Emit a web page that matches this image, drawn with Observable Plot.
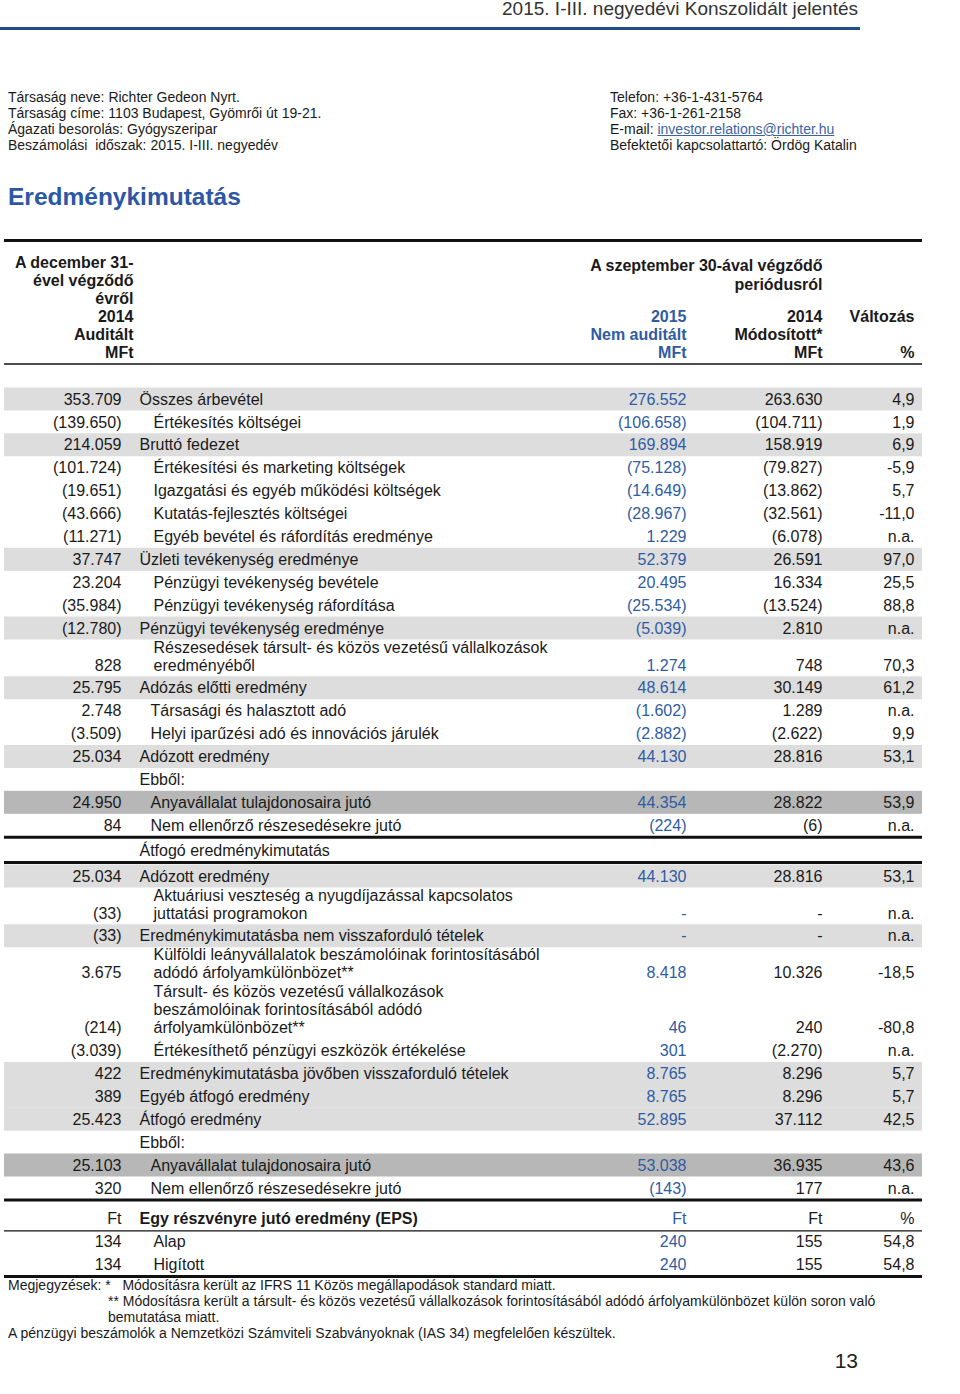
<!DOCTYPE html>
<html><head><meta charset="utf-8">
<script src="https://cdn.jsdelivr.net/npm/d3@7"></script>
<script src="https://cdn.jsdelivr.net/npm/@observablehq/plot@0.6"></script>
<style>
html,body{margin:0;padding:0;background:#fff;overflow:hidden;}
#page{position:relative;width:960px;font-family:"Liberation Sans",Arial,sans-serif;color:#1a1a1a;}
#head{position:relative;height:232px;}
#foot{position:relative;height:116px;}
.abs{position:absolute;white-space:nowrap;}
.info{font-size:14px;line-height:16px;}
.note{font-size:14px;line-height:16px;}
#chart svg{display:block;}
a{color:#3a62a7;text-decoration:underline;}
</style></head>
<body>
<div id="page">
  <div id="head">
    <div class="abs" style="right:102px;top:-2px;font-size:19px;line-height:22px;color:#333;">2015. I-III. negyedévi Konszolidált jelentés</div>
    <div class="abs" style="left:0;top:27px;width:860px;height:3px;background:#1f4e8c;"></div>
    <div class="abs info" style="left:8px;top:89px;">Társaság neve: Richter Gedeon Nyrt.<br>Társaság címe: 1103 Budapest, Gyömrői út 19-21.<br>Ágazati besorolás: Gyógyszeripar<br>Beszámolási&nbsp; időszak: 2015. I-III. negyedév</div>
    <div class="abs info" style="left:610px;top:89px;">Telefon: +36-1-431-5764<br>Fax: +36-1-261-2158<br>E-mail: <a>investor.relations@richter.hu</a><br>Befektetői kapcsolattartó: Ördög Katalin</div>
    <div class="abs" style="left:8px;top:183px;font-size:24.5px;line-height:28px;font-weight:bold;color:#2b57a5;">Eredménykimutatás</div>
  </div>
  <div id="chart"></div>
  <div id="foot">
    <div class="abs note" style="left:8px;top:-1px;">Megjegyzések: *&nbsp;&nbsp; Módosításra került az IFRS 11 Közös megállapodások standard miatt.</div>
    <div class="abs note" style="left:108px;top:15px;">** Módosításra került a társult- és közös vezetésű vállalkozások forintosításából adódó árfolyamkülönbözet külön soron való</div>
    <div class="abs note" style="left:108px;top:31px;">bemutatása miatt.</div>
    <div class="abs note" style="left:8px;top:47px;">A pénzügyi beszámolók a Nemzetközi Számviteli Szabványoknak (IAS 34) megfelelően készültek.</div>
    <div class="abs" style="right:102px;top:71px;font-size:21px;line-height:24px;color:#222;">13</div>
  </div>
</div>
<script>
// ---------- DATA ----------
const labels = [
  "Összes árbevétel",
  "Értékesítés költségei",
  "Bruttó fedezet",
  "Értékesítési és marketing költségek",
  "Igazgatási és egyéb működési költségek",
  "Kutatás-fejlesztés költségei",
  "Egyéb bevétel és ráfordítás eredménye",
  "Üzleti tevékenység eredménye",
  "Pénzügyi tevékenység bevétele",
  "Pénzügyi tevékenység ráfordítása",
  "Pénzügyi tevékenység eredménye",
  "Részesedések társult- és közös vezetésű vállalkozások\neredményéből",
  "Adózás előtti eredmény",
  "Társasági és halasztott adó",
  "Helyi iparűzési adó és innovációs járulék",
  "Adózott eredmény",
  "Ebből:",
  "Anyavállalat tulajdonosaira jutó",
  "Nem ellenőrző részesedésekre jutó",
  "Átfogó eredménykimutatás",
  "Adózott eredmény",
  "Aktuáriusi veszteség a nyugdíjazással kapcsolatos\njuttatási programokon",
  "Eredménykimutatásba nem visszaforduló tételek",
  "Külföldi leányvállalatok beszámolóinak forintosításából\nadódó árfolyamkülönbözet**",
  "Társult- és közös vezetésű vállalkozások\nbeszámolóinak forintosításából adódó\nárfolyamkülönbözet**",
  "Értékesíthető pénzügyi eszközök értékelése",
  "Eredménykimutatásba jövőben visszaforduló tételek",
  "Egyéb átfogó eredmény",
  "Átfogó eredmény",
  "Ebből:",
  "Anyavállalat tulajdonosaira jutó",
  "Nem ellenőrző részesedésekre jutó",
  "Egy részvényre jutó eredmény (EPS)",
  "Alap",
  "Higított"
];
// year ended 31 Dec 2014 (audited), MFt (EPS rows in Ft)
const yearEnd2014 = [353709,-139650,214059,-101724,-19651,-43666,-11271,37747,23204,-35984,-12780,828,25795,2748,-3509,25034,null,24950,84,null,25034,-33,-33,3675,-214,-3039,422,389,25423,null,25103,320,null,134,134];
// period ended 30 Sep 2015 (not audited)
const sep2015 = [276552,-106658,169894,-75128,-14649,-28967,1229,52379,20495,-25534,-5039,1274,48614,-1602,-2882,44130,null,44354,-224,null,44130,null,null,8418,46,301,8765,8765,52895,null,53038,-143,null,240,240];
// period ended 30 Sep 2014 (restated)
const sep2014 = [263630,-104711,158919,-79827,-13862,-32561,-6078,26591,16334,-13524,2810,748,30149,1289,-2622,28816,null,28822,-6,null,28816,null,null,10326,240,-2270,8296,8296,37112,null,36935,177,null,155,155];
// change, %
const changePct = [4.9,1.9,6.9,-5.9,5.7,-11.0,null,97.0,25.5,88.8,null,70.3,61.2,null,9.9,53.1,null,53.9,null,null,53.1,null,null,-18.5,-80.8,null,5.7,5.7,42.5,null,43.6,null,null,54.8,54.8];
const indentLevels = [0,1,0,1,1,1,1,0,1,1,0,1,0,2,2,0,0,2,2,0,0,1,0,1,1,1,0,0,0,0,2,2,0,1,1];
const shading = ["L","","L","","","","","L","","","L","","L","","","L","","D","","","L","","L","","","","L","L","L","","D","","","",""];
const rowKinds = ["item","item","item","item","item","item","item","item","item","item","item","item","item","item","item","item","heading","item","item","heading","item","item","item","item","item","item","item","item","item","heading","item","item","unit","item","item"];
const rulesAfter = {18: "thick", 19: "thick", 31: "thick", 32: "thin", 34: "thick"};
const epsUnits = ["Ft", "Ft", "Ft", "%"];

const headYearEnd = ["A december 31-", "ével végződő", "évről", "2014", "Auditált", "MFt"];
const headPeriod = ["A szeptember 30-ával végződő", "periódusról"];
const headCur = ["2015", "Nem auditált", "MFt"];
const headPrev = ["2014", "Módosított*", "MFt"];
const headChg = ["Változás", "", "%"];

// ---------- LAYOUT ----------
const TOP = 232, H = 1046;
const colX = {fy: 121, label: [139, 153, 150], cur: 686, prev: 822, chg: 914};
const tableX = [4, 922];
const firstRowY = 399, step = 22.9, lineGap = 18;
const extraForLines = {1: 0, 2: 14, 3: 32};
const headLineY0 = 262;
const FS = 16, HFS = 16;
const BLUE = "#2f5ca3", INK = "#1a1a1a";

const loc = d3.formatLocale({decimal: ",", thousands: ".", grouping: [3], currency: ["", ""], minus: "-"});
const fInt = loc.format(",d"), fPct = loc.format(".1f");
const fmtVal = v => v == null ? "-" : v < 0 ? `(${fInt(-v)})` : fInt(v);
const fmtChg = v => v == null ? "n.a." : fPct(v);

// row positions
const rows = [];
let y = firstRowY;
labels.forEach((lab, i) => {
  const lines = lab.split("\n");
  if (i > 0) {
    y += step + extraForLines[lines.length];
    if (rulesAfter[i - 1] === "thick") y += 2.5;
    if (rowKinds[i] === "unit") y += 5.5;
  }
  rows.push({i, lines, y, kind: rowKinds[i]});
});

const shades = rows.filter(r => shading[r.i]).map(r => ({
  y1: r.y - 11.5, y2: r.y + 11.5, fill: shading[r.i] === "D" ? "#b7b7b7" : "#dddddd"
}));
const rules = [{y: 240, w: 3}, {y: 363.5, w: 1.3}].concat(
  Object.entries(rulesAfter).map(([k, t]) => ({y: rows[+k].y + 11.5, w: t === "thick" ? 3 : 1.3}))
);

const endCells = [], startCells = [], boldStart = [];
rows.forEach(r => {
  const i = r.i;
  const lx = colX.label[indentLevels[i]];
  if (r.kind === "unit") {
    boldStart.push({x: lx, y: r.y, text: r.lines[0]});
    [colX.fy, colX.cur, colX.prev, colX.chg].forEach((x, k) =>
      endCells.push({x, y: r.y, text: epsUnits[k], c: k === 1 ? BLUE : INK}));
    return;
  }
  r.lines.forEach((t, k) => startCells.push({x: lx, y: r.y - (r.lines.length - 1 - k) * lineGap, text: t}));
  if (r.kind === "heading") return;
  endCells.push({x: colX.fy, y: r.y, text: fmtVal(yearEnd2014[i]), c: INK});
  endCells.push({x: colX.cur, y: r.y, text: fmtVal(sep2015[i]), c: BLUE});
  endCells.push({x: colX.prev, y: r.y, text: fmtVal(sep2014[i]), c: INK});
  endCells.push({x: colX.chg, y: r.y, text: fmtChg(changePct[i]), c: INK});
});

const headCells = [];
const addHead = (arr, x, start, c, stepL = 1) => arr.forEach((t, k) => {
  if (t) headCells.push({x, y: headLineY0 + (start + k * stepL) * lineGap, text: t, c});
});
addHead(headYearEnd, colX.fy + 12, 0, INK);
addHead(headPeriod, colX.prev, 0.17, INK, 1.05);
addHead(headCur, colX.cur, 3, BLUE);
addHead(headPrev, colX.prev, 3, INK);
addHead(headChg, colX.chg, 3, INK);

const chart = Plot.plot({
  width: 960, height: H, margin: 0,
  x: {type: "linear", domain: [0, 960], range: [0, 960], axis: null},
  y: {type: "linear", domain: [TOP, TOP + H], range: [0, H], axis: null},
  color: {type: "identity"},
  style: {fontFamily: "'Liberation Sans', Arial, sans-serif", background: "white", color: INK},
  marks: [
    Plot.rect(shades, {x1: tableX[0], x2: tableX[1], y1: "y1", y2: "y2", fill: "fill"}),
    Plot.ruleY(rules, {y: "y", x1: tableX[0], x2: tableX[1], stroke: "#111", strokeWidth: "w"}),
    Plot.text(headCells, {x: "x", y: "y", text: "text", fill: "c", textAnchor: "end", fontSize: HFS, fontWeight: "bold"}),
    Plot.text(startCells, {x: "x", y: "y", text: "text", fill: INK, textAnchor: "start", fontSize: FS}),
    Plot.text(boldStart, {x: "x", y: "y", text: "text", fill: INK, textAnchor: "start", fontSize: FS, fontWeight: "bold"}),
    Plot.text(endCells, {x: "x", y: "y", text: "text", fill: "c", textAnchor: "end", fontSize: FS})
  ]
});
document.getElementById("chart").appendChild(chart);
</script>
</body></html>
